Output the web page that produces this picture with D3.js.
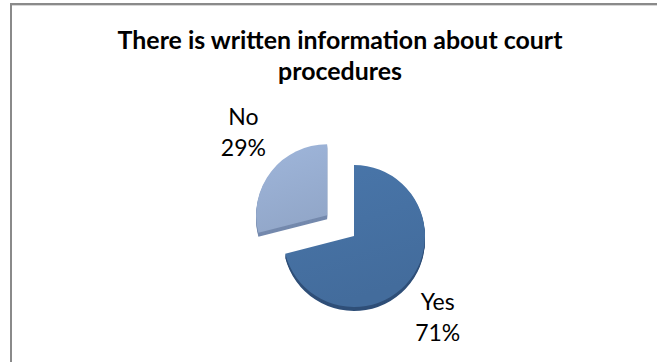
<!DOCTYPE html>
<html>
<head>
<meta charset="utf-8">
<script src="https://cdn.jsdelivr.net/npm/d3@7"></script>
<style>
  html, body { margin: 0; padding: 0; background: #fff; }
  svg { display: block; }
</style>
</head>
<body>
<div id="chart"></div>
<script>
const titleLines = ['There is written information about court', 'procedures'];
const categories = ['Yes', 'No'];
const values = [71, 29];
const percentLabels = ['71%', '29%'];

const width = 657, height = 362;
const cx = 354, cy = 236, radius = 71, depth = 4, explode = 34;
const topColors = ['#4671a3', '#98aed2'];
const sideColors = ['#2f4f78', '#7489ad'];

const svg = d3.select('#chart').append('svg')
  .attr('width', width)
  .attr('height', height);

svg.append('rect').attr('width', width).attr('height', height).attr('fill', '#fff');

// chart frame (left + top edges only visible)
svg.append('path')
  .attr('d', 'M11,' + height + 'V4H' + width)
  .attr('fill', 'none')
  .attr('stroke', '#8a8a8a')
  .attr('stroke-width', 2);
svg.append('line')
  .attr('x1', 12).attr('x2', width).attr('y1', 5.5).attr('y2', 5.5)
  .attr('stroke', '#d6d6d6').attr('stroke-width', 1);

// title
const title = svg.append('text')
  .attr('text-anchor', 'middle')
  .attr('font-family', 'Lato, "Open Sans", sans-serif')
  .attr('font-weight', 'bold')
  .attr('font-size', 24)
  .attr('fill', '#000');
title.selectAll('tspan').data(titleLines).join('tspan')
  .attr('x', 340)
  .attr('y', (d, i) => 49 + i * 31)
  .text(d => d);
// fit title width to the reference
const w0 = title.select('tspan').node().getComputedTextLength();
title.attr('font-size', 24 * 445 / w0);

const defs = svg.append('defs');
topColors.forEach((c, i) => {
  const g = defs.append('linearGradient')
    .attr('id', 'grad' + i)
    .attr('x1', 0).attr('y1', 0).attr('x2', 0.3).attr('y2', 1);
  g.append('stop').attr('offset', '0%').attr('stop-color', d3.color(c).brighter(0.12));
  g.append('stop').attr('offset', '100%').attr('stop-color', d3.color(c).darker(0.12));
});

const pie = d3.pie().sort(null).startAngle(0).endAngle(2 * Math.PI);
const arcs = pie(values);
const arc = d3.arc().innerRadius(0).outerRadius(radius);

function sliceOffset(d, i) {
  if (i === 0) return [0, 0];
  const a = (d.startAngle + d.endAngle) / 2;
  return [Math.sin(a) * explode, -Math.cos(a) * explode];
}

const slices = svg.append('g').selectAll('g.slice')
  .data(arcs)
  .join('g')
  .attr('class', 'slice')
  .attr('transform', (d, i) => {
    const o = sliceOffset(d, i);
    return 'translate(' + (cx + o[0]) + ',' + (cy + o[1]) + ')';
  });

// side face (depth)
for (let k = depth; k > 0; k--) {
  slices.append('path')
    .attr('d', arc)
    .attr('transform', 'translate(0,' + k + ')')
    .attr('fill', (d, i) => sideColors[i]);
}
// top face
slices.append('path')
  .attr('d', arc)
  .attr('fill', (d, i) => 'url(#grad' + i + ')');

// labels
const labelRx = 106, labelRy = 134;
const labels = svg.append('g').selectAll('text')
  .data(arcs)
  .join('text')
  .attr('text-anchor', 'middle')
  .attr('font-family', 'Lato, "Open Sans", sans-serif')
  .attr('font-size', 23)
  .attr('fill', '#000')
  .each(function (d, i) {
    const o = sliceOffset(d, i);
    const a = (d.startAngle + d.endAngle) / 2;
    const x = cx + o[0] + Math.sin(a) * labelRx;
    const y = cy + o[1] - Math.cos(a) * labelRy;
    const t = d3.select(this);
    t.append('tspan').attr('x', x).attr('y', y - 8).text(categories[i]);
    t.append('tspan').attr('x', x).attr('y', y + 23).text(percentLabels[i]);
  });
</script>
</body>
</html>
